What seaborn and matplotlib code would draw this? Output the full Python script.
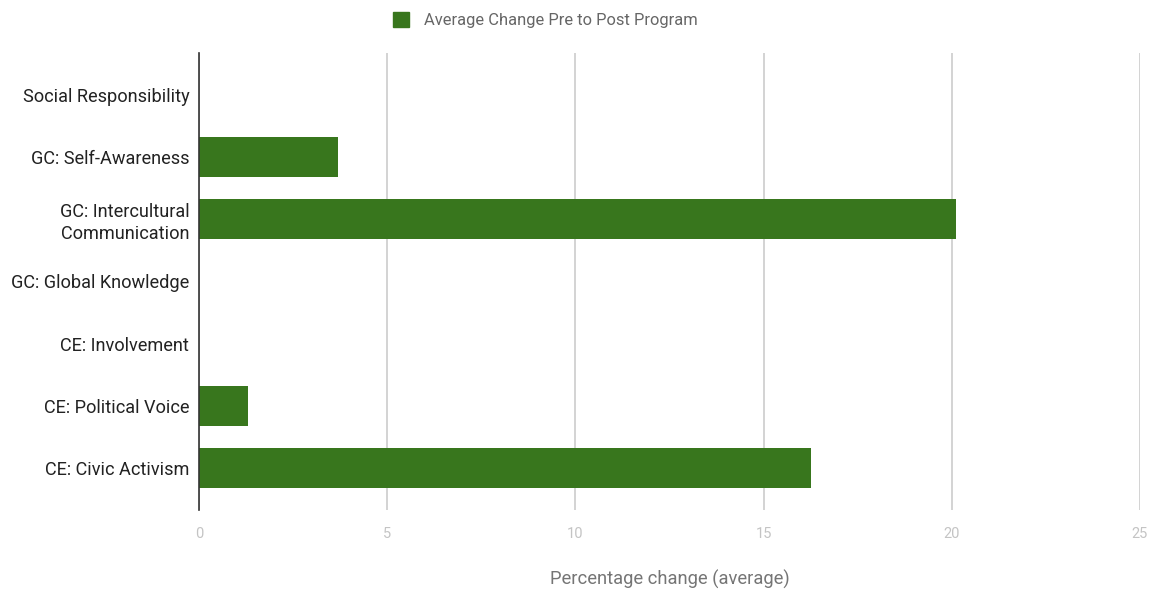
import matplotlib
matplotlib.use("Agg")
import matplotlib.pyplot as plt
import seaborn as sns
import pandas as pd
from matplotlib.patches import Patch

categories = ["Social Responsibility", "GC: Self-Awareness", "GC: Intercultural\nCommunication",
              "GC: Global Knowledge", "CE: Involvement", "CE: Political Voice", "CE: Civic Activism"]
values = [0, 3.7, 20.1, 0, 0, 1.3, 16.25]
xticks = [0, 5, 10, 15, 20, 25]
series_name = "Average Change Pre to Post Program"

sns.set_style("white")
plt.rcParams['font.family'] = ['Roboto', 'DejaVu Sans']

df = pd.DataFrame({"cat": categories, "val": values})

fig = plt.figure(figsize=(11.53, 5.90), dpi=100)
ax = fig.add_axes([199/1153, 1 - 510/590, (1140-199)/1153, (510-53)/590])

sns.barplot(data=df, y="cat", x="val", orient="h", color="#38761d", width=0.64,
            saturation=1, ax=ax, order=categories, edgecolor="#38761d", linewidth=0)

ax.set_xlim(0, 25)
ax.set_ylim(6.675, -0.675)
ax.set_xticks(xticks)
ax.set_xticklabels([str(t) for t in xticks])
ax.grid(axis="x", color="#cccccc", linewidth=1.2)
ax.set_axisbelow(True)
for s in ["top", "right", "bottom"]:
    ax.spines[s].set_visible(False)
ax.spines["left"].set_color("#333333")
ax.spines["left"].set_linewidth(1.2)
ax.spines["left"].set_zorder(5)

ax.tick_params(axis="x", colors="#c4c4c4", labelsize=10.5, length=0, pad=12)
ax.tick_params(axis="y", colors="#222222", labelsize=13.1, length=0, pad=7)
for lbl in ax.get_yticklabels():
    lbl.set_color("#222222")
    lbl.set_linespacing(1.25)

ax.set_ylabel("")
ax.set_xlabel("Percentage change (average)", color="#757575", fontsize=13.2, labelpad=21)

fig.legend(handles=[Patch(facecolor="#38761d", edgecolor="#38761d", label=series_name)],
           loc="center", bbox_to_anchor=(0.473, 0.966), frameon=False,
           fontsize=11.9, labelcolor="#666666", handlelength=1.0, handleheight=1.0,
           handletextpad=0.9)

fig.savefig("out.png", dpi=100)
